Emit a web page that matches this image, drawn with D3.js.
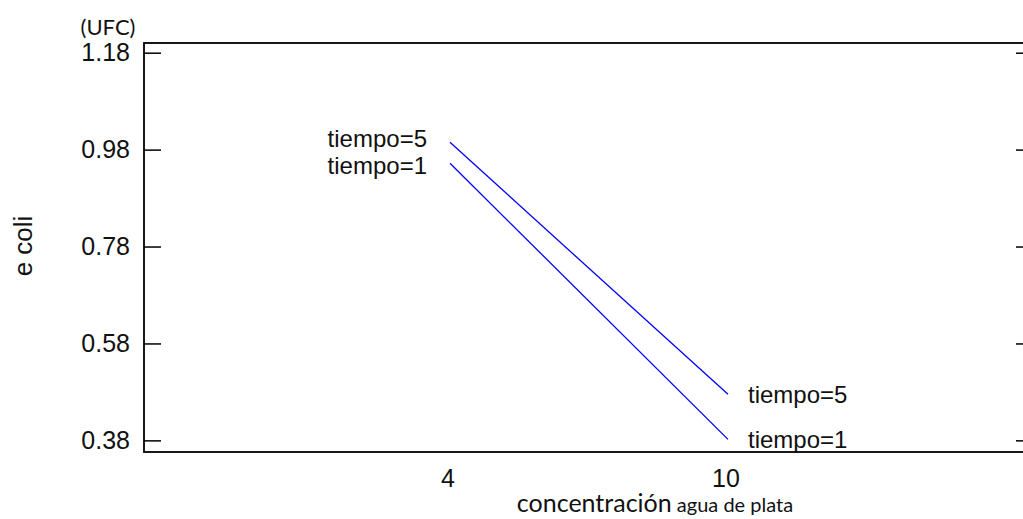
<!DOCTYPE html>
<html>
<head>
<meta charset="utf-8">
<script src="https://cdn.jsdelivr.net/npm/d3@7"></script>
<style>
  html, body { margin: 0; padding: 0; background: #fff; overflow: hidden; }
  svg { display: block; }
  .tick-label { font-family: "Liberation Sans", Arial, sans-serif; font-size: 25px; fill: #111; }
  .series-label { font-family: "Liberation Sans", Arial, sans-serif; font-size: 24px; fill: #111; }
  .calibri { font-family: "Lato", "Open Sans", sans-serif; fill: #111; }
</style>
</head>
<body>
<svg id="chart" width="1023" height="519"></svg>
<script>
// Interaction plot: E. coli count (UFC) against silver water concentration
const concentrations = [4, 10];
const seriesNames = ["tiempo=5", "tiempo=1"];
const tiempo5 = [0.995, 0.475];
const tiempo1 = [0.952, 0.382];
const yTicks = [0.38, 0.58, 0.78, 0.98, 1.18];
const xTicks = [4, 10];

const series = [
  { name: seriesNames[0], values: tiempo5, dyLeft: 5 },
  { name: seriesNames[1], values: tiempo1, dyLeft: 11 }
];

const svg = d3.select("#chart");

// plot frame (right edge runs past the visible area)
const frame = { left: 144, right: 1033, top: 43, bottom: 452 };

const x = d3.scaleLinear().domain([4, 10]).range([450, 728]);
const y = d3.scaleLinear().domain([0.356, 1.2]).range([frame.bottom, frame.top]);

// frame box
svg.append("rect")
  .attr("x", frame.left).attr("y", frame.top)
  .attr("width", frame.right - frame.left).attr("height", frame.bottom - frame.top)
  .attr("fill", "none").attr("stroke", "#000").attr("stroke-width", 1.8);

// left axis: inward ticks, labels outside
const leftAxis = d3.axisRight(y).tickValues(yTicks).tickSize(17).tickFormat("");
svg.append("g").attr("transform", `translate(${frame.left},0)`).call(leftAxis)
  .call(g => g.select(".domain").remove())
  .call(g => g.selectAll("line").attr("stroke", "#000").attr("stroke-width", 1.5));

svg.append("g").selectAll("text").data(yTicks).join("text")
  .attr("class", "tick-label")
  .attr("x", frame.left - 14)
  .attr("y", d => y(d))
  .attr("dy", "0.35em")
  .attr("text-anchor", "end")
  .text(d => d3.format(".2f")(d));

// right axis: inward ticks
const rightAxis = d3.axisLeft(y).tickValues(yTicks).tickSize(17).tickFormat("");
svg.append("g").attr("transform", `translate(${frame.right},0)`).call(rightAxis)
  .call(g => g.select(".domain").remove())
  .call(g => g.selectAll("line").attr("stroke", "#000").attr("stroke-width", 1.5));

// x tick labels (no tick marks)
svg.append("g").selectAll("text").data(xTicks).join("text")
  .attr("class", "tick-label")
  .attr("x", d => x(d) - 2)
  .attr("y", 487)
  .attr("text-anchor", "middle")
  .text(d => d);

// series lines
const line = d3.line().x((d, i) => x(concentrations[i])).y(d => y(d));
svg.append("g").selectAll("path").data(series).join("path")
  .attr("d", d => line(d.values))
  .attr("fill", "none")
  .attr("stroke", "#0000ff")
  .attr("stroke-width", 1.3);

// series labels at both ends
svg.append("g").selectAll("text").data(series).join("text")
  .attr("class", "series-label")
  .attr("x", x(concentrations[0]) - 23)
  .attr("y", d => y(d.values[0]) + d.dyLeft)
  .attr("text-anchor", "end")
  .text(d => d.name);

svg.append("g").selectAll("text").data(series).join("text")
  .attr("class", "series-label")
  .attr("x", x(concentrations[1]) + 20)
  .attr("y", d => y(d.values[1]) + 9)
  .attr("text-anchor", "start")
  .text(d => d.name);

// axis titles
svg.append("text").attr("class", "calibri")
  .attr("x", 108).attr("y", 35).attr("text-anchor", "middle")
  .style("font-size", "22px").text("(UFC)");

svg.append("text").attr("class", "tick-label")
  .attr("transform", "translate(32,246) rotate(-90)")
  .attr("text-anchor", "middle")
  .style("font-size", "26px")
  .text("e coli");

const xTitle = svg.append("text").attr("class", "calibri")
  .attr("x", 655).attr("y", 512).attr("text-anchor", "middle");
xTitle.append("tspan").style("font-size", "25px").text("concentración");
xTitle.append("tspan").style("font-size", "20px").text(" agua de plata");
</script>
</body>
</html>
